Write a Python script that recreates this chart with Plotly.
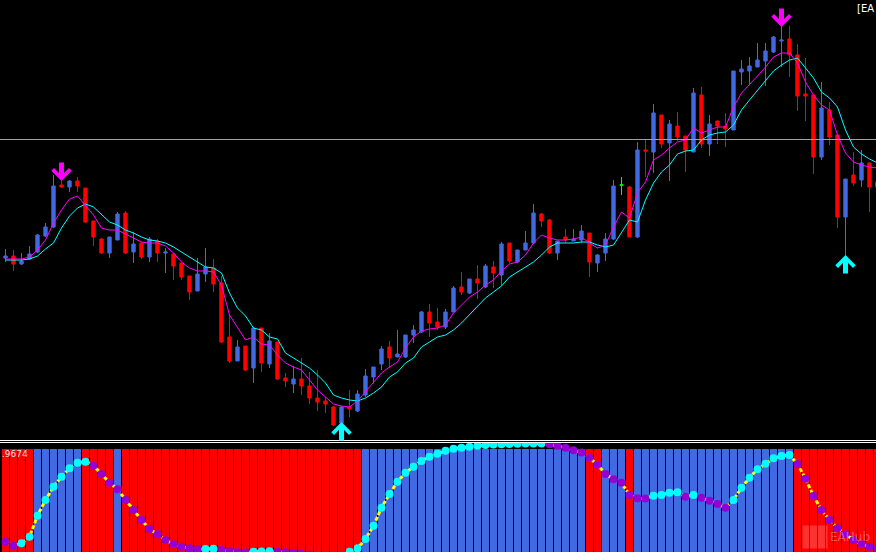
import plotly.graph_objects as go

W, H = 876, 552

# ---------------- data (prices in chart points) ----------------
bar_index = list(range(110))

open_ = [182,184,176,181,188,204,213,255,253,259,
         252,219,201,187,200,227,188,197,183,199,
         187,186,177,164,149,166,172,157,103,79,
         94,72,112,76,98,62,56,61,54,42,
         39,33,17,33,29,45,63,76,93,83,
         83,105,108,128,118,113,128,153,147,161,
         153,173,165,197,178,190,197,226,220,187,
         203,199,200,207,177,187,201,255,253,203,
         290,288,325,297,314,304,288,345,296,319,
         314,310,368,369,373,379,388,399,401,385,
         346,345,283,330,305,223,265,260,277,253]
high = [191,190,187,194,206,217,265,259,260,263,
        252,219,202,203,228,229,208,197,203,201,
        192,186,177,164,182,192,181,164,125,100,
        94,112,112,107,98,67,74,82,68,70,
        43,34,34,50,50,71,73,94,99,110,
        105,115,129,136,132,131,154,168,161,175,
        176,179,198,197,190,209,236,227,221,199,
        211,211,215,207,186,207,260,263,254,298,
        300,336,325,320,328,304,352,353,325,319,
        327,369,380,383,397,397,404,414,414,396,
        382,345,358,338,305,261,288,290,277,262]
low = [178,169,175,180,187,203,212,252,248,248,
       217,194,186,182,200,186,177,181,178,178,
       167,160,160,140,149,158,148,97,77,79,
       69,57,68,72,60,53,47,45,36,29,
       27,14,16,23,28,43,57,70,72,83,
       82,97,107,103,110,111,128,145,146,141,
       152,152,155,177,177,190,196,213,186,180,
       197,199,197,163,168,179,200,245,203,202,
       263,267,292,259,299,268,288,292,284,296,
       293,310,355,355,373,354,387,373,363,329,
       319,266,280,295,212,178,254,253,228,250]
close = [184,176,179,186,205,213,254,253,259,254,
         218,203,187,203,226,187,196,183,201,187,
         188,174,163,148,166,173,156,98,79,93,
         70,112,77,99,61,59,61,54,42,38,
         36,15,33,31,46,64,73,91,82,86,
         105,110,128,117,113,128,152,148,161,157,
         174,167,196,179,190,197,227,219,187,199,
         200,201,209,178,185,201,254,255,203,290,
         289,327,296,316,303,290,347,296,316,314,
         311,369,371,374,380,389,403,400,385,344,
         344,283,332,303,223,261,257,277,253,258]

ma_fast = [181,181,181,183,190,200,217,230,241,244,
           235,225,212,210,210,206,202,198,197,197,
           194,187,178,172,169,169,168,155,125,113,
           100,103,96,95,85,77,73,70,60,50,
           43,36,34,33,39,48,57,67,73,78,
           92,103,109,111,112,115,127,135,143,148,
           155,160,169,176,178,185,197,205,202,200,
           200,201,203,197,192,195,213,228,222,247,
           258,280,285,292,298,300,312,307,310,313,
           313,333,347,355,364,373,383,387,387,377,
           358,345,335,330,305,287,278,275,273,272]
ma_slow = [180,180,180,181,184,191,197,212,224,232,
           236,233,225,218,215,210,207,203,200,199,
           197,193,188,183,178,173,172,167,147,132,
           124,112,110,103,101,87,82,77,72,65,
           57,45,42,40,39,42,47,53,63,68,
           77,82,93,98,103,105,110,117,125,133,
           142,148,154,163,168,173,178,185,193,197,
           197,197,198,198,195,193,195,207,220,218,
           240,257,268,275,286,289,290,300,305,307,
           308,315,330,340,350,360,369,375,380,382,
           372,362,348,342,333,310,293,286,281,277]

level_line = 300.5

signal_down_idx = [7, 97]
signal_down_price = [259, 413]
signal_up_idx = [42, 105]
signal_up_price = [18, 185]

# lower indicator
oscillator = [10.3,6.3,8.7,15.3,36.3,52,65.3,75.3,83.7,89.3,
              90.3,86.3,78,69.3,62.7,52,42,32,23,17.7,
              12,7.7,5.3,3.7,2.7,3.0,3.2,2.0,1.0,0.0,
              -0.5,0.2,0.4,0.8,0.3,-0.2,-0.8,-1.5,-2.5,-3.5,
              -4.5,-5.0,-4.0,0.3,3.7,13,26.3,44.3,58,70.3,
              79.3,85.3,91,95.3,98.3,101.3,103.3,104.3,105.3,106.3,
              107,107.5,107.7,108,108.2,108.4,108.5,108.6,107.7,106.3,
              104.3,101.7,99.5,94.3,87.3,78,72.7,69.3,57,53.7,
              53.4,56.3,57,59.3,59.7,55.3,57,54.3,51.3,48,
              44.3,52,64.3,74.3,82.7,88.3,93.7,96,97,88,
              73.3,56,42,32,23.7,17.7,12,7.7,5.3,3.7]
hist_state = [-1,-1,-1,-1,1,1,1,1,1,1,
              -1,-1,-1,-1,1,-1,-1,-1,-1,-1,
              -1,-1,-1,-1,-1,-1,-1,-1,-1,-1,
              -1,-1,-1,-1,-1,-1,-1,-1,-1,-1,
              -1,-1,-1,-1,-1,1,1,1,1,1,
              1,1,1,1,1,1,1,1,1,1,
              1,1,1,1,1,1,1,1,1,1,
              1,1,1,-1,-1,1,1,1,-1,1,
              1,1,1,1,1,1,1,1,1,1,
              1,1,1,1,1,1,1,1,1,-1,
              -1,-1,-1,-1,-1,-1,-1,-1,-1,-1]
hist_level = 103.5
osc_label = ".9674"

# ---------------- styling ----------------
BLUE = "#4169e1"
RED = "#ff0000"
MAG = "#ff00ff"
AQUA = "#00ffff"
VIOLET = "#9400d3"
YELLOW = "#ffff00"

main_top_px, main_bot_px = 0, 440
low_top_px = 442

def py(px):
    return 1 - px / H

fig = go.Figure()

# split exact dojis (open == close) to draw in green
norm_o, norm_h, norm_l, norm_c = [], [], [], []
doji_x, doji_o, doji_h, doji_l, doji_c = [], [], [], [], []
for i in bar_index:
    if open_[i] == close[i]:
        doji_x.append(i); doji_o.append(open_[i]); doji_h.append(high[i])
        doji_l.append(low[i]); doji_c.append(close[i])
        norm_o.append(None); norm_h.append(None); norm_l.append(None); norm_c.append(None)
    else:
        norm_o.append(open_[i]); norm_h.append(high[i]); norm_l.append(low[i]); norm_c.append(close[i])

fig.add_trace(go.Candlestick(
    x=bar_index, open=norm_o, high=norm_h, low=norm_l, close=norm_c,
    increasing=dict(line=dict(color=BLUE, width=1), fillcolor=BLUE),
    decreasing=dict(line=dict(color=RED, width=1), fillcolor=RED),
    whiskerwidth=0, hoverinfo="skip", showlegend=False, xaxis="x", yaxis="y"))
fig.add_trace(go.Candlestick(
    x=doji_x, open=doji_o, high=doji_h, low=doji_l, close=doji_c,
    increasing=dict(line=dict(color="#00ff00", width=1), fillcolor="#00ff00"),
    decreasing=dict(line=dict(color="#00ff00", width=1), fillcolor="#00ff00"),
    whiskerwidth=0, hoverinfo="skip", showlegend=False, xaxis="x", yaxis="y"))

fig.add_trace(go.Scatter(x=bar_index, y=ma_slow, mode="lines",
                         line=dict(color=AQUA, width=1), hoverinfo="skip",
                         showlegend=False, xaxis="x", yaxis="y"))
fig.add_trace(go.Scatter(x=bar_index, y=ma_fast, mode="lines",
                         line=dict(color=MAG, width=1), hoverinfo="skip",
                         showlegend=False, xaxis="x", yaxis="y"))

# lower panel histogram
fig.add_trace(go.Bar(
    x=bar_index, y=[hist_level] * len(bar_index), base=0,
    marker=dict(color=[BLUE if s > 0 else RED for s in hist_state], line=dict(width=0)),
    width=0.875, hoverinfo="skip", showlegend=False, xaxis="x2", yaxis="y2"))

fig.add_trace(go.Scatter(x=bar_index, y=oscillator, mode="lines",
                         line=dict(color=YELLOW, width=3, dash="4px,2px"),
                         hoverinfo="skip", showlegend=False, xaxis="x2", yaxis="y2"))
dot_colors = [VIOLET] + [AQUA if oscillator[i] > oscillator[i - 1] else VIOLET
                         for i in range(1, len(oscillator))]
fig.add_trace(go.Scatter(x=bar_index, y=oscillator, mode="markers",
                         marker=dict(color=dot_colors, size=8, line=dict(width=0)),
                         hoverinfo="skip", showlegend=False, xaxis="x2", yaxis="y2"))

annotations = []
for i, p in zip(signal_down_idx, signal_down_price):
    annotations.append(dict(x=i, y=p, xref="x", yref="y", text="", showarrow=True,
                            ax=0, ay=-20, arrowhead=4, arrowwidth=5, arrowsize=0.68,
                            arrowcolor=MAG, standoff=0))
for i, p in zip(signal_up_idx, signal_up_price):
    annotations.append(dict(x=i, y=p, xref="x", yref="y", text="", showarrow=True,
                            ax=0, ay=20, arrowhead=4, arrowwidth=5, arrowsize=0.68,
                            arrowcolor=AQUA, standoff=0))

annotations.append(dict(x=0, y=py(447), xref="paper", yref="paper", text=osc_label,
                        showarrow=False, xanchor="left", yanchor="top",
                        font=dict(family="DejaVu Sans", size=9, color="#e6e6e6")))
annotations.append(dict(x=1, y=py(1), xref="paper", yref="paper", text="[EA",
                        showarrow=False, xanchor="right", yanchor="top",
                        font=dict(family="DejaVu Sans", size=10, color="#ffffff")))
annotations.append(dict(x=815 / W, y=py(537), xref="paper", yref="paper", text=" ",
                        showarrow=False, xanchor="center", yanchor="middle",
                        width=22, height=20, bgcolor="rgba(255,110,110,0.45)",
                        font=dict(size=10)))
annotations.append(dict(x=828 / W, y=py(537), xref="paper", yref="paper", text="EAHub",
                        showarrow=False, xanchor="left", yanchor="middle",
                        font=dict(family="DejaVu Sans", size=12, color="rgba(255,255,255,0.35)")))

shapes = [
    dict(type="line", xref="paper", yref="y", x0=0, x1=1, y0=level_line, y1=level_line,
         line=dict(color="#a0a0a0", width=1)),
    dict(type="line", xref="paper", yref="paper", x0=0, x1=1, y0=py(440.5), y1=py(440.5),
         line=dict(color="#ffffff", width=1)),
    dict(type="line", xref="paper", yref="paper", x0=0, x1=1, y0=py(442.5), y1=py(442.5),
         line=dict(color="#ffffff", width=1)),
]

xr = [(0 - 5.5) / 8, (W - 5.5) / 8]
axis_common = dict(showgrid=False, zeroline=False, showticklabels=False,
                   showline=False, ticks="", fixedrange=True)

fig.update_layout(
    width=W, height=H, margin=dict(l=0, r=0, t=0, b=0),
    paper_bgcolor="#000000", plot_bgcolor="#000000",
    boxgap=0.4, bargap=0, hovermode=False,
    xaxis=dict(domain=[0, 1], range=xr, anchor="y",
               rangeslider=dict(visible=False), **axis_common),
    yaxis=dict(domain=[py(main_bot_px), py(main_top_px)], range=[0, 440], anchor="x",
               **axis_common),
    xaxis2=dict(domain=[0, 1], range=xr, anchor="y2", **axis_common),
    yaxis2=dict(domain=[0, py(low_top_px)], range=[0, H - low_top_px], anchor="x2",
                **axis_common),
    annotations=annotations, shapes=shapes,
)

fig.write_html("out.html", config={"displayModeBar": False},
               post_script="document.body.style.margin='0px';"
                           "document.body.style.overflow='hidden';"
                           "document.body.style.background='#000';")
